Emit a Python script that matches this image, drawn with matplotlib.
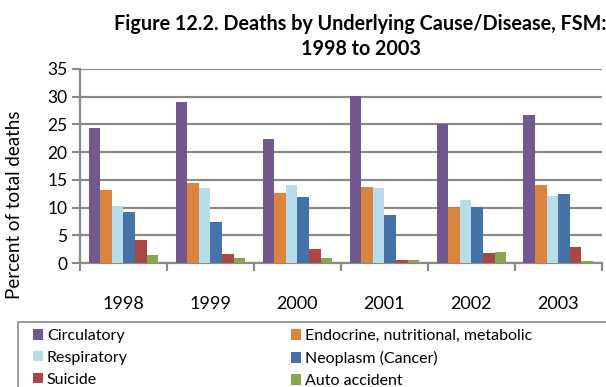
import numpy as np
import matplotlib
matplotlib.use("Agg")
import matplotlib.pyplot as plt
from matplotlib.patches import Patch, Rectangle

plt.rcParams['font.family'] = ['Lato', 'DejaVu Sans']

years = ["1998", "1999", "2000", "2001", "2002", "2003"]
causes = ["Circulatory", "Endocrine, nutritional, metabolic", "Respiratory",
          "Neoplasm (Cancer)", "Suicide", "Auto accident"]
circulatory = [24.3, 29.0, 22.4, 30.1, 25.1, 26.7]
endocrine = [13.1, 14.4, 12.6, 13.7, 10.0, 14.0]
respiratory = [10.3, 13.5, 14.0, 13.5, 11.3, 12.1]
neoplasm = [9.3, 7.4, 11.9, 8.6, 10.1, 12.4]
suicide = [4.1, 1.6, 2.5, 0.5, 1.9, 3.0]
auto_accident = [1.4, 0.85, 1.0, 0.65, 2.1, 0.3]
colors = ["#71588F", "#DB843D", "#B7DEE8", "#4572A7", "#AA4643", "#89A54E"]

series = [circulatory, endocrine, respiratory, neoplasm, suicide, auto_accident]

fig = plt.figure(figsize=(6.06, 3.87), dpi=100)
ax = fig.add_axes([0.132, 0.320, 0.861, 0.502])

x = np.arange(len(years))
width = 0.8 / len(series)
for i, (vals, c) in enumerate(zip(series, colors)):
    ax.bar(x - 0.4 + width * (i + 0.5), vals, width, color=c, zorder=3)

ax.set_xlim(-0.5, len(years) - 0.5)
ax.set_ylim(0, 35)
ax.set_yticks(range(0, 36, 5))
ax.yaxis.grid(True, color="#8a8a8a", linewidth=1.6, zorder=0)
ax.set_xticks(x)
ax.set_xticklabels(years, fontsize=13)
ax.set_xticks(np.arange(-0.5, len(years)), minor=True)
ax.tick_params(axis='x', which='major', length=0, pad=24)
ax.tick_params(axis='x', which='minor', length=6, width=1.5, color="#8a8a8a")
ax.tick_params(axis='y', length=6, width=1.5, color="#8a8a8a", labelsize=12.5, pad=3)

for side in ["top", "right"]:
    ax.spines[side].set_visible(False)
for side in ["left", "bottom"]:
    ax.spines[side].set_color("#8a8a8a")
    ax.spines[side].set_linewidth(1.6)

ax.set_ylabel("Percent of total deaths", fontsize=13.5, va="center")
ax.yaxis.set_label_coords(-0.125, 0.30)

fig.text(0.595, 0.965, "Figure 12.2. Deaths by Underlying Cause/Disease, FSM:\n1998 to 2003",
         ha="center", va="top", fontsize=14.2, fontweight="bold", linespacing=1.35)

# legend laid out row by row: two columns, three rows
order = [0, 2, 4, 1, 3, 5]
handles = [Patch(facecolor=colors[i], edgecolor="none") for i in order]
labels = [causes[i] for i in order]
fig.legend(handles, labels, loc="upper left", bbox_to_anchor=(0.0545, 0.150),
           ncol=2, fontsize=11.5, frameon=False,
           handlelength=0.62, handleheight=0.62, handletextpad=0.25,
           columnspacing=10.2, labelspacing=0.5, borderpad=0, borderaxespad=0)
fig.add_artist(Rectangle((18 / 606, -0.1), 1.0, 0.1 + 1 - 322 / 387,
                         transform=fig.transFigure, fill=False,
                         edgecolor="#8a8a8a", linewidth=1.2))

fig.savefig("out.png", dpi=100)
